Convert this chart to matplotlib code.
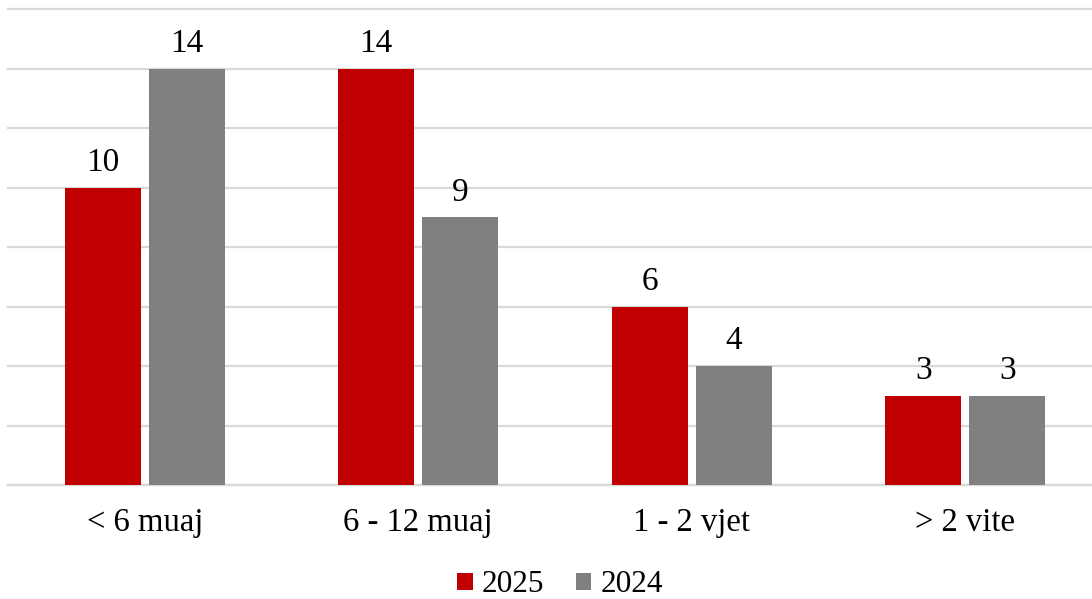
import numpy as np
from matplotlib import pyplot as plt

categories = ["< 6 muaj", "6 - 12 muaj", "1 - 2 vjet", "> 2 vite"]
values_2025 = [10, 14, 6, 3]
values_2024 = [14, 9, 4, 3]
series_names = ["2025", "2024"]
yticks = [0, 2, 4, 6, 8, 10, 12, 14, 16]

RED = "#C00000"
GRAY = "#808080"
GRID = "#D9D9D9"


def draw():
    plt.rcParams["font.family"] = ["Liberation Serif", "DejaVu Serif"]
    fig = plt.figure(figsize=(10.92, 5.99), dpi=100)
    # axes spills slightly past the right edge, the last column is clipped
    ax = fig.add_axes([8 / 1092, 114 / 599, 1094 / 1092, 476 / 599])

    x = np.arange(len(categories))
    width = 0.278
    offset = 0.1536
    b1 = ax.bar(x - offset, values_2025, width, color=RED, label=series_names[0], zorder=3)
    b2 = ax.bar(x + offset, values_2024, width, color=GRAY, label=series_names[1], zorder=3)

    for bars in (b1, b2):
        ax.bar_label(bars, labels=[str(v) for v in bars.datavalues],
                     padding=7, fontsize=24)

    ax.set_xlim(-0.5, len(categories) - 0.5)
    ax.set_ylim(0, 16)
    ax.set_yticks(yticks)
    ax.yaxis.grid(True, color=GRID, linewidth=1.6, zorder=0)
    for line in ax.get_ygridlines():
        line.set_clip_on(False)
    ax.set_axisbelow(True)
    ax.tick_params(axis="y", left=False, labelleft=False)
    ax.tick_params(axis="x", bottom=False, labelsize=23.5, pad=13)
    ax.set_xticks(x)
    ax.set_xticklabels(categories)
    for side in ("top", "right", "left"):
        ax.spines[side].set_visible(False)
    ax.spines["bottom"].set_color(GRID)
    ax.spines["bottom"].set_linewidth(1.6)

    fig.legend(handles=[b1, b2], loc="center", bbox_to_anchor=(560 / 1092, 14 / 599),
               ncol=2, frameon=False, fontsize=22.5, handlelength=0.5,
               handleheight=0.5, handletextpad=0.3, columnspacing=1.0,
               borderpad=0)

    fig.savefig("out.png", dpi=100)


if __name__ == "__main__":
    draw()
